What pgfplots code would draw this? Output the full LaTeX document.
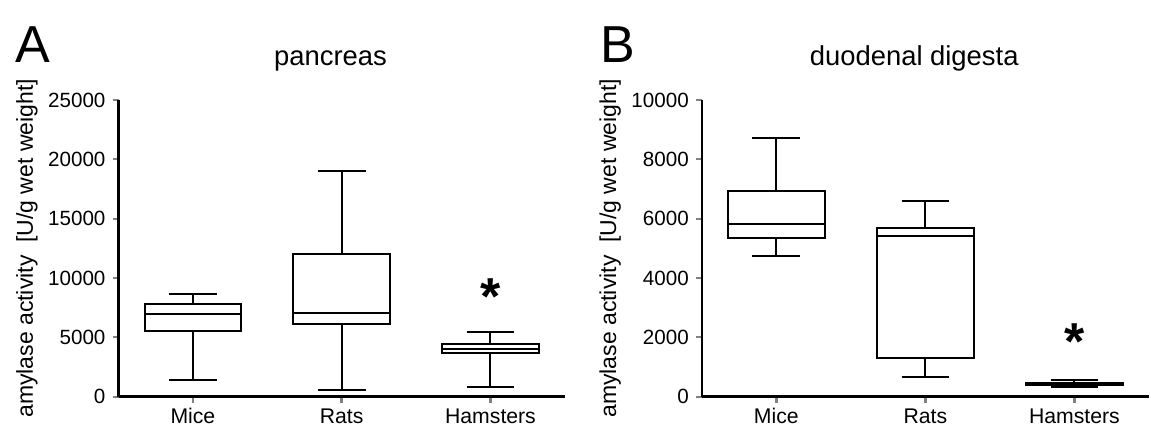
\documentclass[border=0pt]{standalone}
\usepackage{fontspec}
\setmainfont{Liberation Sans}
\usepackage{pgfplots}
\pgfplotsset{compat=1.18}
\usepgfplotslibrary{statistics}

% one pixel of the reference = 0.5pt
\pgfplotsset{
  panel/.style={
    scale only axis,
    width=223.2pt, height=148.35pt,
    anchor=south west,
    axis x line=bottom, axis y line=left,
    axis line style={-},
    x axis line style={line width=1.7pt},
    y axis line style={line width=1.3pt},
    tick align=outside,
    major tick length=3pt,
    xtick style={line width=1.4pt},
    ytick style={line width=1pt},
    xmin=-0.5, xmax=2.5, ymin=0,
    xtick={0,1,2},
    xticklabels={Mice,Rats,Hamsters},
    xticklabel style={font=\fontsize{10.6}{12}\selectfont, text height=7.7pt, text depth=0pt, inner sep=1pt, yshift=-1.6pt},
    yticklabel style={font=\fontsize{10.3}{12}\selectfont},
    /pgf/number format/assume math mode=true,
    /pgf/number format/set thousands separator={},
    scaled y ticks=false,
    ylabel={amylase activity\ \ [U/g wet weight]},
    ylabel style={font=\fontsize{11.5}{12}\selectfont, at={(axis description cs:-0.205,0.5)}, anchor=center},
    title style={font=\fontsize{13.7}{15}\selectfont, at={(axis description cs:0.475,1)}, anchor=base, yshift=11.5pt},
    clip=false,
    boxplot/draw direction=y,
  },
  bx/.style={draw=black, line width=1pt, solid,
    boxplot prepared={draw direction=y, box extend=0.65, whisker extend=0.32, #1}},
  star/.style={draw=none, mark=none,
    nodes near coords={\textbf{*}},
    every node near coord/.style={anchor=base, yshift=-12.5pt, font=\fontsize{26}{26}\selectfont}},
}

\begin{document}
\begin{tikzpicture}
\path[use as bounding box] (0,0) rectangle (575.5pt,-214.5pt);

% A: pancreas
\begin{axis}[panel, at={(59.25pt,-198.35pt)},
  ymax=25000, ytick={0,5000,10000,15000,20000,25000},
  title={pancreas}]
\addplot[bx={draw position=0, lower whisker=1400, lower quartile=5530,
  median=6940, upper quartile=7810, upper whisker=8620}] coordinates {};
\addplot[bx={draw position=1, lower whisker=560, lower quartile=6120,
  median=7080, upper quartile=12020, upper whisker=19020}] coordinates {};
\addplot[bx={draw position=2, lower whisker=840, lower quartile=3650,
  median=4020, upper quartile=4410, upper whisker=5420}] coordinates {};
\addplot[star] coordinates {(2,9000)};
\end{axis}

% B: duodenal digesta
\begin{axis}[panel, at={(350.9pt,-198.35pt)}, width=223.6pt,
  ymax=10000, ytick={0,2000,4000,6000,8000,10000},
  title={duodenal digesta}]
\addplot[bx={draw position=0, lower whisker=4730, lower quartile=5360,
  median=5810, upper quartile=6930, upper whisker=8730}] coordinates {};
\addplot[bx={draw position=1, lower whisker=650, lower quartile=1290,
  median=5420, upper quartile=5670, upper whisker=6610}] coordinates {};
\addplot[bx={draw position=2, lower whisker=330, lower quartile=400,
  median=430, upper quartile=470, upper whisker=560}] coordinates {};
\addplot[star] coordinates {(2,2080)};
\end{axis}

\node[anchor=base west, inner sep=0, font=\fontsize{26}{26}\selectfont] at (7.5pt,-31pt) {A};
\node[anchor=base west, inner sep=0, font=\fontsize{26}{26}\selectfont] at (299.9pt,-31pt) {B};
\end{tikzpicture}
\end{document}
